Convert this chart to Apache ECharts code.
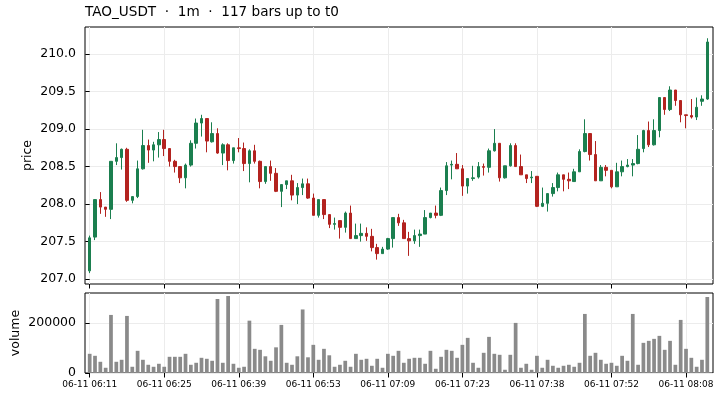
<!DOCTYPE html>
<html>
<head>
<meta charset="utf-8">
<script src="https://cdn.jsdelivr.net/npm/echarts@6/dist/echarts.min.js"></script>
<style>
html,body{margin:0;padding:0;background:#fff;}
#chart{width:723px;height:400px;}
</style>
</head>
<body>
<div id="chart"></div>
<script>
// 117 one-minute bars, index 0..116
var opens = [207.11,207.56,208.06,207.96,207.93,208.57,208.62,208.73,208.05,208.10,
  208.47,208.78,208.72,208.79,208.86,208.74,208.57,208.50,208.35,208.52,
  208.81,209.08,209.14,208.83,208.94,208.68,208.79,208.58,208.75,208.74,
  208.54,208.71,208.57,208.30,208.50,208.41,208.17,208.26,208.31,208.12,
  208.22,208.27,208.08,207.85,208.06,207.86,207.73,207.78,207.69,207.88,
  207.54,207.58,207.61,207.57,207.42,207.34,207.40,207.54,207.82,207.75,
  207.54,207.51,207.58,207.60,207.82,207.88,207.85,208.18,208.52,208.53,
  208.47,208.24,208.34,208.36,208.50,208.49,208.71,208.81,208.35,208.51,
  208.78,208.50,208.39,208.35,208.37,207.97,208.01,208.14,208.22,208.39,
  208.33,208.30,208.43,208.70,208.94,208.66,208.31,208.49,208.45,208.23,
  208.43,208.50,208.52,208.54,208.74,208.98,208.79,208.98,209.42,209.26,
  209.52,209.38,209.19,209.18,209.16,209.37,209.40];
var closes = [207.55,208.06,207.96,207.93,208.57,208.62,208.73,208.05,208.10,208.47,
  208.78,208.72,208.79,208.86,208.74,208.57,208.50,208.35,208.52,208.81,
  209.08,209.14,208.84,208.94,208.68,208.79,208.58,208.75,208.74,208.54,
  208.71,208.57,208.30,208.50,208.41,208.17,208.26,208.31,208.12,208.22,
  208.27,208.08,207.85,208.06,207.86,207.73,207.74,207.69,207.88,207.54,
  207.58,207.61,207.57,207.42,207.34,207.40,207.54,207.82,207.75,207.54,
  207.51,207.58,207.60,207.82,207.88,207.85,208.18,208.51,208.53,208.47,
  208.24,208.34,208.35,208.50,208.49,208.71,208.81,208.35,208.51,208.78,
  208.50,208.39,208.34,208.36,207.97,208.01,208.14,208.22,208.39,208.33,
  208.31,208.43,208.70,208.94,208.66,208.31,208.49,208.45,208.23,208.43,
  208.50,208.52,208.54,208.73,208.98,208.79,208.98,209.42,209.26,209.52,
  209.38,209.19,209.18,209.16,209.29,209.40,210.16];
var lows = [207.08,207.52,207.87,207.83,207.80,208.52,208.46,208.03,208.01,208.08,
  208.46,208.55,208.57,208.62,208.64,208.50,208.42,208.28,208.21,208.50,
  208.74,208.90,208.69,208.82,208.67,208.52,208.45,208.54,208.69,208.44,
  208.29,208.54,208.21,208.27,208.31,208.16,207.96,208.20,208.05,208.00,
  208.12,208.07,207.85,207.82,207.80,207.68,207.66,207.54,207.62,207.54,
  207.54,207.50,207.51,207.37,207.26,207.34,207.39,207.42,207.71,207.54,
  207.31,207.47,207.43,207.60,207.81,207.81,207.84,208.12,208.33,208.47,
  208.11,208.14,208.31,208.34,208.38,208.42,208.70,208.30,208.34,208.50,
  208.50,208.39,208.28,208.28,207.96,207.96,207.90,208.10,208.17,208.17,
  208.20,208.30,208.43,208.69,208.58,208.31,208.31,208.37,208.21,208.23,
  208.37,208.49,208.37,208.53,208.69,208.76,208.78,208.89,209.19,209.24,
  209.31,209.09,209.01,209.14,209.12,209.31,209.39];
var highs = [207.58,208.06,208.16,207.96,208.57,208.81,208.74,208.75,208.10,208.58,
  208.99,208.86,208.83,208.96,208.99,208.74,208.59,208.50,208.54,208.85,
  209.14,209.19,209.14,209.09,209.01,208.81,208.81,208.75,208.88,208.82,
  208.73,208.79,208.58,208.50,208.58,208.48,208.26,208.31,208.39,208.28,
  208.34,208.34,208.14,208.06,208.06,207.86,207.82,207.78,207.90,207.98,
  207.74,207.74,207.69,207.67,207.47,207.43,207.55,207.82,207.87,207.79,
  207.63,207.66,207.66,207.92,207.88,207.98,208.22,208.56,208.58,208.68,
  208.52,208.34,208.51,208.56,208.54,208.74,209.00,208.81,208.51,208.81,
  208.81,208.66,208.39,208.44,208.37,208.22,208.14,208.28,208.42,208.39,
  208.42,208.47,208.73,209.13,208.94,208.84,208.52,208.52,208.45,208.55,
  208.58,208.60,208.60,208.92,208.99,209.10,209.13,209.42,209.42,209.57,
  209.52,209.38,209.19,209.40,209.42,209.45,210.21];
var volumes = [77000,69000,45000,21000,233000,45000,53000,229000,25000,89000,
  53000,33000,25000,37000,25000,65000,65000,65000,77000,33000,
  41000,61000,57000,49000,297000,41000,309000,37000,21000,25000,
  210000,97000,93000,67000,49000,103000,193000,41000,33000,67000,
  255000,63000,113000,53000,97000,71000,25000,33000,49000,25000,
  77000,53000,57000,29000,57000,21000,77000,69000,89000,41000,
  57000,61000,61000,37000,89000,17000,65000,93000,89000,61000,
  113000,141000,41000,21000,81000,145000,77000,73000,13000,73000,
  201000,21000,37000,13000,69000,21000,53000,29000,21000,29000,
  33000,25000,41000,237000,69000,81000,53000,37000,41000,29000,
  69000,49000,237000,33000,121000,129000,137000,149000,93000,129000,
  33000,213000,97000,61000,25000,53000,305000];

var xTickPos = [0,14,28,42,56,70,84,98,112];
var xTickLabels = ['06-11 06:11','06-11 06:25','06-11 06:39','06-11 06:53','06-11 07:09',
  '06-11 07:23','06-11 07:38','06-11 07:52','06-11 08:08'];
var priceTicks = [207.0,207.5,208.0,208.5,209.0,209.5,210.0];
var volumeTicks = [0,200000];

var FONT = 'DejaVu Sans';
var UP = '#1b7f4f', DOWN = '#b3231f', VOLC = '#8a8a8a', GRIDC = '#ececec';

var candles = opens.map(function(o, i){ return [i, o, closes[i], lows[i], highs[i]]; });
var vols = volumes.map(function(v, i){ return [i, v]; });

function xAxisFor(gridIndex, showLabels) {
  return {
    type:'value', gridIndex:gridIndex, min:-0.88, max:117.07,
    axisLine:{show:false},
    axisTick:{show:true, customValues:xTickPos, length:4.5, lineStyle:{color:'#000', width:1}},
    axisLabel:{show:showLabels, customValues:xTickPos, margin:7, fontFamily:FONT, fontSize:9, color:'#000',
      formatter:function(v){ var k = xTickPos.indexOf(Math.round(v)); return k >= 0 ? xTickLabels[k] : ''; }},
    splitLine:{show:true, lineStyle:{color:GRIDC, width:1}}
  };
}

// volume bars as plain rects so the value x-axis keeps its exact range
function volumeBar(params, api) {
  var x = api.value(0), v = api.value(1);
  var top = api.coord([x - 0.35, v]);
  var base = api.coord([x + 0.35, 0]);
  return {type:'rect', shape:{x:top[0], y:top[1], width:base[0] - top[0], height:base[1] - top[1]},
    style:{fill:VOLC}};
}

var chart = echarts.init(document.getElementById('chart'), null, {renderer:'canvas'});
chart.setOption({
  animation:false,
  backgroundColor:'#fff',
  title:{text:'TAO_USDT  \u00b7  1m  \u00b7  117 bars up to t0', left:85, top:5, padding:0,
    textStyle:{fontFamily:FONT, fontSize:13.6, fontWeight:'normal', color:'#000'}},
  grid:[
    {left:85, top:27, width:628, height:257, outerBoundsMode:'none', containLabel:false,
      show:true, borderColor:'#000', borderWidth:1, backgroundColor:'transparent'},
    {left:85, top:293, width:628, height:80, outerBoundsMode:'none', containLabel:false,
      show:true, borderColor:'#000', borderWidth:1, backgroundColor:'transparent'}
  ],
  xAxis:[xAxisFor(0, false), xAxisFor(1, true)],
  yAxis:[
    {type:'value', gridIndex:0, min:206.935, max:210.36, scale:true,
      name:'price', nameLocation:'middle', nameGap:51, nameMoveOverlap:false,
      nameTextStyle:{fontFamily:FONT, fontSize:12.5, color:'#000'},
      axisLine:{show:false},
      axisTick:{show:true, customValues:priceTicks, length:4.5, lineStyle:{color:'#000'}},
      axisLabel:{customValues:priceTicks, margin:9, fontFamily:FONT, fontSize:12.5, color:'#000',
        formatter:function(v){ return v.toFixed(1); }},
      splitLine:{show:true, lineStyle:{color:GRIDC}}},
    {type:'value', gridIndex:1, min:0, max:321000,
      name:'volume', nameLocation:'middle', nameGap:63, nameMoveOverlap:false,
      nameTextStyle:{fontFamily:FONT, fontSize:12.5, color:'#000'},
      axisLine:{show:false},
      axisTick:{show:true, customValues:volumeTicks, length:4.5, lineStyle:{color:'#000'}},
      axisLabel:{customValues:volumeTicks, margin:9, fontFamily:FONT, fontSize:12.5, color:'#000',
        formatter:function(v){ return String(v); }},
      splitLine:{show:true, lineStyle:{color:GRIDC}}}
  ],
  series:[
    {type:'candlestick', xAxisIndex:0, yAxisIndex:0, data:candles, barWidth:3,
      encode:{x:0, y:[1,2,3,4]},
      itemStyle:{color:UP, color0:DOWN, borderColor:UP, borderColor0:DOWN, borderWidth:1}},
    {type:'custom', xAxisIndex:1, yAxisIndex:1, data:vols, encode:{x:0, y:1},
      renderItem:volumeBar}
  ]
});
</script>
</body>
</html>
